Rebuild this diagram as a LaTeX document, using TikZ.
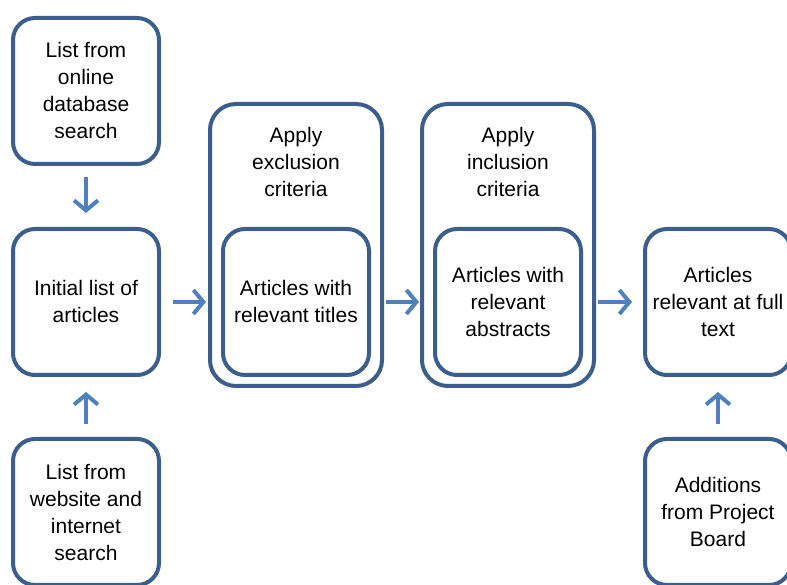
\documentclass[tikz,border=0pt]{standalone}
\usepackage{fontspec}
\setmainfont{Liberation Sans}
\usetikzlibrary{positioning,arrows.meta}

\definecolor{boxblue}{RGB}{59,94,140}
\definecolor{arrowblue}{RGB}{79,129,189}

\tikzset{
  stage/.style={draw=boxblue, line width=4pt, rounded corners=22pt,
    minimum width=146pt, minimum height=146pt, align=center,
    font=\fontsize{21}{27}\selectfont},
  group/.style={draw=boxblue, line width=4pt, rounded corners=26pt,
    minimum width=172pt, minimum height=282pt},
  heading/.style={align=center, inner sep=0pt,
    font=\fontsize{21}{27}\selectfont},
  flow/.style={draw=arrowblue, line width=4pt,
    -{Straight Barb[length=10pt,width=24pt]}}
}

\begin{document}
\begin{tikzpicture}[x=1pt, y=1pt]
  \useasboundingbox (0,0) rectangle (787,585);
  \clip (0,0) rectangle (787,585);

  % left column
  \node[stage] (online) at (86,494) {List from\\online\\database\\search};
  \node[stage] (initial) [below=61pt of online] {Initial list of\\articles};
  \node[stage] (website) [below=60pt of initial] {List from\\website and\\internet\\search};

  % screening steps
  \node[stage] (titles) [right=60pt of initial] {Articles with\\relevant titles};
  \node[group] (exclusion) at ([yshift=57pt]titles) {};
  \node[heading] (exclusionhead) [below=25pt of exclusion.north] {Apply\\exclusion\\criteria};

  \node[stage] (abstracts) [right=62pt of titles] {Articles with\\relevant\\abstracts};
  \node[group] (inclusion) at ([yshift=57pt]abstracts) {};
  \node[heading] (inclusionhead) [below=25pt of inclusion.north] {Apply\\inclusion\\criteria};

  % right column
  \node[stage] (fulltext) [right=60pt of abstracts] {Articles\\relevant at full\\text};
  \node[stage] (board) [below=60pt of fulltext] {Additions\\from Project\\Board};

  \draw[flow, shorten <=11pt, shorten >=14pt] (online) -- (initial);
  \draw[flow, shorten <=13pt, shorten >=15pt] (website) -- (initial);
  \draw[flow, shorten <=12pt, shorten >=2pt] (initial.east) -- (initial.east -| exclusion.west);
  \draw[flow, shorten <=2pt, shorten >=1pt] (initial.east -| exclusion.east) -- (initial.east -| inclusion.west);
  \draw[flow, shorten <=2pt, shorten >=11pt] (initial.east -| inclusion.east) -- (fulltext.west);
  \draw[flow, shorten <=13pt, shorten >=15pt] (board) -- (fulltext);
\end{tikzpicture}
\end{document}
